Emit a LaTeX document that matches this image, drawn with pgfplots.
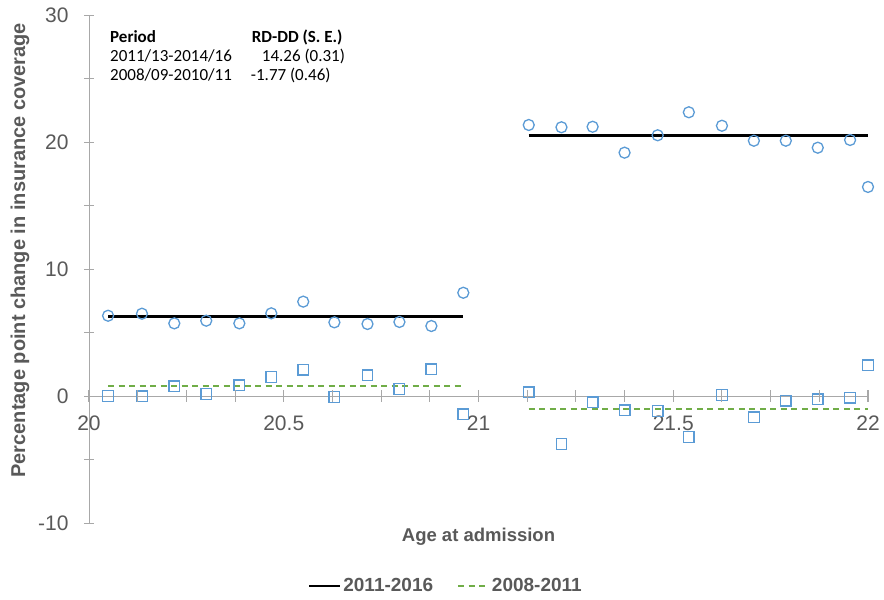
\documentclass[border=0pt]{standalone}
\usepackage{pgfplots}
\pgfplotsset{compat=1.18}
\usetikzlibrary{calc}
\usepackage{fontspec}
\setmainfont{Liberation Sans}
\newfontfamily\calibri{Carlito}
\definecolor{axgray}{HTML}{A8A8A8}
\definecolor{txtgray}{HTML}{595959}
\definecolor{mblue}{HTML}{5B9BD5}
\definecolor{mgreen}{HTML}{70AD47}

\begin{document}
\begin{tikzpicture}
\useasboundingbox (0bp,0bp) rectangle (884bp,600bp);
\begin{axis}[
  at={(89bp,77bp)}, anchor=south west,
  scale only axis, width=779bp, height=508bp,
  xmin=20, xmax=22, ymin=-10, ymax=30,
  axis x line=middle, axis y line=left,
  x axis line style={-, axgray, line width=0.9bp},
  y axis line style={-, axgray, line width=0.9bp},
  hide obscured x ticks=false, hide obscured y ticks=false,
  xtick={20,20.5,21,21.5,22},
  ytick={-10,0,10,20,30},
  minor ytick={-5,5,15,25},
  tick align=center,
  major tick length=10bp, minor tick length=10bp,
  xtick style={draw=axgray, line width=0.9bp},
  ytick style={draw=axgray, line width=0.9bp},
  minor y tick style={draw=axgray, line width=0.9bp},
  /pgf/number format/assume math mode=true,
  ticklabel style={font=\fontsize{21bp}{24bp}\selectfont, text=txtgray},
  yticklabel style={xshift=-12bp},
  xticklabel style={yshift=-11bp},
  clip=false,
  xlabel={Age at admission},
  ylabel={Percentage point change in insurance coverage},
  every axis x label/.style={at={(axis description cs:0.5,-0.028)}, anchor=center,
     font=\bfseries\fontsize{18.5bp}{22bp}\selectfont, text=txtgray},
  every axis y label/.style={at={(axis description cs:-0.0886,0.537)}, anchor=center, rotate=90,
     font=\bfseries\fontsize{20bp}{24bp}\selectfont, text=txtgray},
  legend style={at={(axis description cs:0.458,-0.124)}, anchor=center, draw=none, fill=none,
     font=\bfseries\fontsize{19bp}{22bp}\selectfont, text=txtgray,
     /tikz/every even column/.append style={column sep=22bp},
     nodes={inner xsep=2bp}},
  legend columns=2,
  legend image code/.code={\draw[#1] (0bp,0bp) -- (31bp,0bp);},
]
% markers
\addplot[only marks, mark=o, mark size=5.5bp, mblue, mark options={line width=1.3bp}, forget plot] coordinates {
 (20.049,6.32) (20.136,6.48) (20.219,5.72) (20.301,5.93) (20.386,5.72) (20.468,6.51)
 (20.550,7.43) (20.630,5.80) (20.715,5.67) (20.797,5.83) (20.879,5.51) (20.961,8.13)
};
\addplot[only marks, mark=o, mark size=5.5bp, mblue, mark options={line width=1.3bp}, forget plot] coordinates {
 (21.129,21.34) (21.213,21.16) (21.293,21.20) (21.375,19.16) (21.460,20.53) (21.540,22.34)
 (21.625,21.28) (21.707,20.10) (21.789,20.10) (21.871,19.55) (21.954,20.16) (22.000,16.46)
};
\addplot[only marks, mark=square, mark size=5.3bp, mblue, mark options={line width=1.3bp, fill=none}, forget plot] coordinates {
 (20.049,0.00) (20.136,-0.03) (20.219,0.76) (20.301,0.16) (20.386,0.84) (20.468,1.50)
 (20.550,2.07) (20.630,-0.08) (20.715,1.63) (20.797,0.55) (20.879,2.10) (20.961,-1.44)
};
\addplot[only marks, mark=square, mark size=5.3bp, mblue, mark options={line width=1.3bp, fill=none}, forget plot] coordinates {
 (21.129,0.29) (21.213,-3.78) (21.293,-0.50) (21.375,-1.13) (21.460,-1.18) (21.540,-3.23)
 (21.625,0.08) (21.707,-1.68) (21.789,-0.37) (21.871,-0.26) (21.954,-0.13) (22.000,2.42)
};
% fitted lines
\addplot[black, line width=2.6bp, no marks] coordinates {(20.049,6.25) (20.961,6.25)};
\addlegendentry{2011-2016}
\addplot[mgreen, line width=1.8bp, dash pattern=on 6bp off 4.5bp, no marks] coordinates {(20.049,0.76) (20.961,0.76)};
\addlegendentry{2008-2011}
\addplot[black, line width=2.6bp, no marks, forget plot] coordinates {(21.129,20.53) (22.0,20.53)};
\addplot[mgreen, line width=1.8bp, dash pattern=on 6bp off 4.5bp, no marks, forget plot] coordinates {(21.129,-1.00) (22.0,-1.00)};
\coordinate (O) at (axis cs:20,0);
\coordinate (E) at (axis cs:22,0);
\end{axis}
% x-axis tick marks every 0.125 (16 intervals between 20 and 22)
\foreach \k in {0,...,16} {
  \draw[axgray, line width=1.1bp] ($(O)!\k/16!(E)$) ++(0bp,-6bp) -- ++(0bp,12bp);
}
% text box
\begin{scope}[every node/.style={anchor=base west, inner sep=0pt, font=\calibri\fontsize{17bp}{20bp}\selectfont}]
\node at (110bp,557.3bp) {\bfseries Period};
\node at (251.7bp,557.3bp) {\bfseries RD-DD (S. E.)};
\node at (110bp,538.3bp) {2011/13-2014/16};
\node at (261.7bp,538.3bp) {14.26 (0.31)};
\node at (110bp,519bp) {2008/09-2010/11};
\node at (250.7bp,519bp) {-1.77 (0.46)};
\end{scope}
\end{tikzpicture}
\end{document}
